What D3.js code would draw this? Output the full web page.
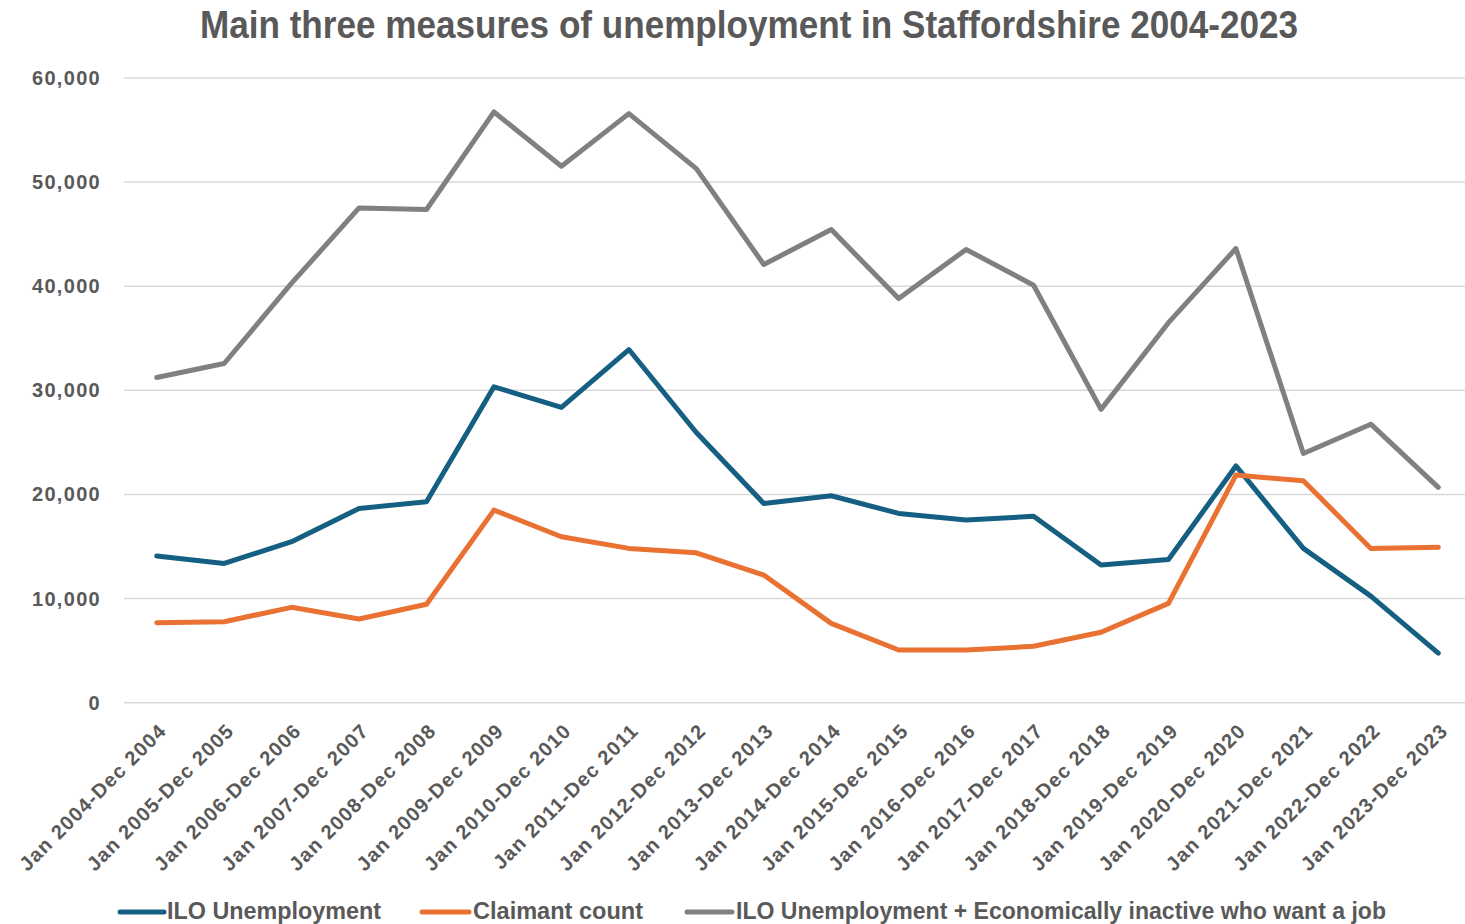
<!DOCTYPE html>
<html>
<head>
<meta charset="utf-8">
<script src="https://cdn.jsdelivr.net/npm/d3@7"></script>
<style>
  html, body { margin: 0; padding: 0; background: #ffffff; }
  svg { display: block; }
</style>
</head>
<body>
<svg id="chart" width="1465" height="924"></svg>
<script>
const categories = [
  "Jan 2004-Dec 2004", "Jan 2005-Dec 2005", "Jan 2006-Dec 2006", "Jan 2007-Dec 2007",
  "Jan 2008-Dec 2008", "Jan 2009-Dec 2009", "Jan 2010-Dec 2010", "Jan 2011-Dec 2011",
  "Jan 2012-Dec 2012", "Jan 2013-Dec 2013", "Jan 2014-Dec 2014", "Jan 2015-Dec 2015",
  "Jan 2016-Dec 2016", "Jan 2017-Dec 2017", "Jan 2018-Dec 2018", "Jan 2019-Dec 2019",
  "Jan 2020-Dec 2020", "Jan 2021-Dec 2021", "Jan 2022-Dec 2022", "Jan 2023-Dec 2023"
];
const iloUnemployment = [14080, 13380, 15460, 18660, 19300, 30340, 28360, 33920, 25950, 19140,
                         19880, 18180, 17540, 17900, 13220, 13760, 22740, 14820, 10240, 4760];
const claimantCount = [7680, 7780, 9160, 8040, 9450, 18500, 15940, 14820, 14400, 12260,
                       7620, 5060, 5060, 5420, 6760, 9540, 21860, 21310, 14820, 14920];
const iloPlusInactive = [31240, 32580, 40300, 47520, 47370, 56740, 51520, 56580, 51300, 42090,
                         45440, 38820, 43530, 40100, 28170, 36500, 43620, 23940, 26750, 20680];
const yTicks = [0, 10000, 20000, 30000, 40000, 50000, 60000];
const seriesNames = ["ILO Unemployment", "Claimant count", "ILO Unemployment + Economically inactive who want a job"];
const titleText = "Main three measures of unemployment in Staffordshire 2004-2023";

const series = [
  { name: seriesNames[0], values: iloUnemployment, color: "#156082" },
  { name: seriesNames[1], values: claimantCount, color: "#e97132" },
  { name: seriesNames[2], values: iloPlusInactive, color: "#808080" }
];

const svg = d3.select("#chart");
const plot = { left: 123, right: 1472, top: 78, bottom: 702.7 };
const textColor = "#595959";

const x = d3.scalePoint().domain(categories).range([plot.left, plot.right]).padding(0.5);
const y = d3.scaleLinear().domain([0, 60000]).range([plot.bottom, plot.top]);

// Title
svg.append("text")
  .attr("x", 749).attr("y", 38)
  .attr("text-anchor", "middle")
  .attr("font-family", "'Liberation Sans Narrow', 'Arial Narrow', 'Liberation Sans', sans-serif")
  .attr("font-weight", "bold")
  .attr("font-size", 38)
  .attr("fill", textColor)
  .attr("textLength", 1098)
  .attr("lengthAdjust", "spacingAndGlyphs")
  .text(titleText);

// Gridlines
svg.append("g").selectAll("line").data(yTicks).join("line")
  .attr("x1", plot.left + 1).attr("x2", plot.right)
  .attr("y1", d => y(d)).attr("y2", d => y(d))
  .attr("stroke", "#d9d9d9").attr("stroke-width", 1.5);

// Y axis labels
const fmt = d3.format(",");
svg.append("g").selectAll("text").data(yTicks).join("text")
  .attr("x", 101).attr("y", d => y(d)).attr("dy", "0.35em")
  .attr("text-anchor", "end")
  .attr("font-family", "'Liberation Sans', Arial, sans-serif")
  .attr("font-weight", "bold").attr("font-size", 20)
  .attr("letter-spacing", 1.3)
  .attr("fill", textColor)
  .text(d => fmt(d));

// X axis labels
svg.append("g").selectAll("text").data(categories).join("text")
  .attr("transform", d => `translate(${x(d) + 6},${727}) rotate(-45)`)
  .attr("text-anchor", "end")
  .attr("dy", "0.35em")
  .attr("font-family", "'Liberation Sans', Arial, sans-serif")
  .attr("font-weight", "bold").attr("font-size", 20)
  .attr("letter-spacing", 1.2)
  .attr("fill", textColor)
  .text(d => d);

// Lines
const line = d3.line().x((d, i) => x(categories[i])).y(d => y(d));
svg.append("g").selectAll("path").data(series).join("path")
  .attr("d", s => line(s.values))
  .attr("fill", "none")
  .attr("stroke", s => s.color)
  .attr("stroke-width", 5)
  .attr("stroke-linejoin", "round")
  .attr("stroke-linecap", "round");

// Legend
const legendItems = [
  { s: series[0], x0: 120, x1: 164, tx: 167, tw: 214 },
  { s: series[1], x0: 422, x1: 469, tx: 473, tw: 170 },
  { s: series[2], x0: 687, x1: 732, tx: 736, tw: 650 }
];
const lg = svg.append("g").selectAll("g").data(legendItems).join("g");
lg.append("line")
  .attr("x1", d => d.x0).attr("x2", d => d.x1)
  .attr("y1", 912).attr("y2", 912)
  .attr("stroke", d => d.s.color).attr("stroke-width", 5)
  .attr("stroke-linecap", "round");
lg.append("text")
  .attr("x", d => d.tx).attr("y", 919)
  .attr("font-family", "'Liberation Sans Narrow', 'Arial Narrow', 'Liberation Sans', sans-serif")
  .attr("font-weight", "bold").attr("font-size", 23)
  .attr("fill", textColor)
  .attr("textLength", d => d.tw)
  .attr("lengthAdjust", "spacingAndGlyphs")
  .text(d => d.s.name);
</script>
</body>
</html>
